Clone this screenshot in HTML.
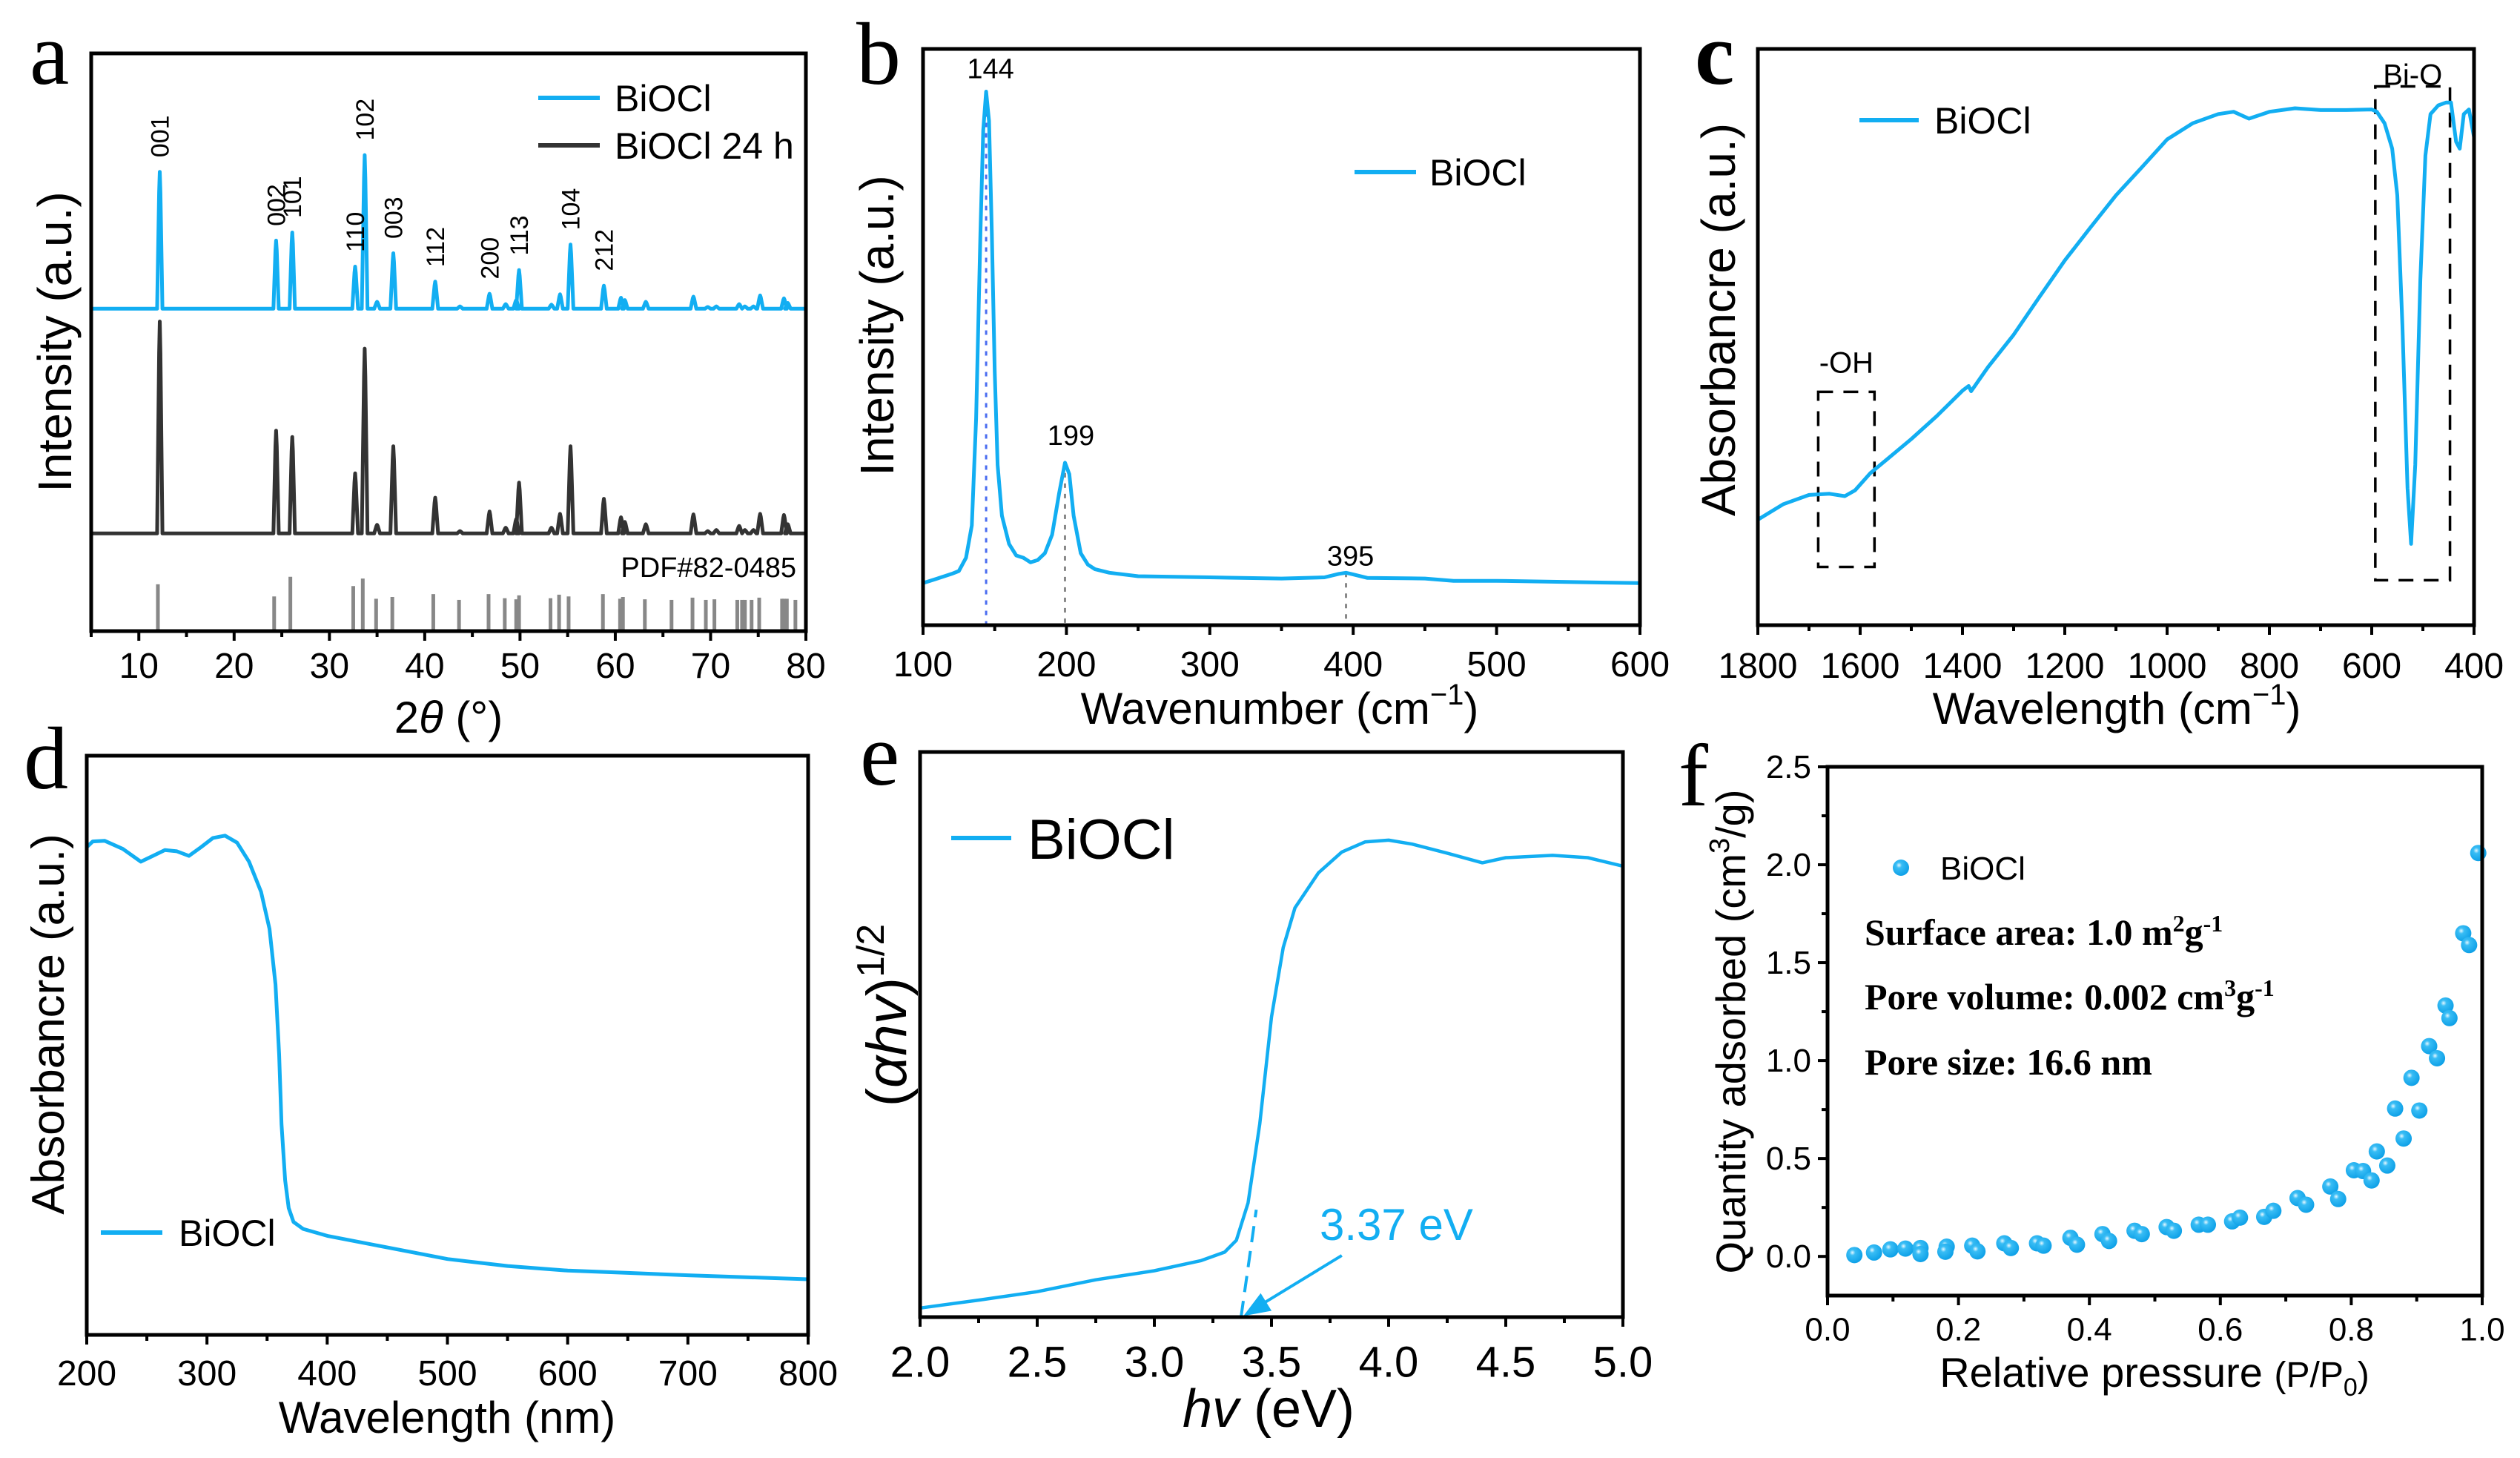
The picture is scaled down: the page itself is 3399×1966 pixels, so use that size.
<!DOCTYPE html>
<html><head><meta charset="utf-8"><style>
html,body{margin:0;padding:0;background:#fff;}
svg{display:block;font-family:"Liberation Sans",Arial,sans-serif;}
</style></head><body>
<svg id="fig" width="3399" height="1966" viewBox="0 0 3399 1966" xmlns="http://www.w3.org/2000/svg">
<defs>
<radialGradient id="ball" cx="0.38" cy="0.35" r="0.7">
<stop offset="0" stop-color="#e8f8ff"/><stop offset="0.25" stop-color="#39bdf5"/><stop offset="1" stop-color="#0a9ee6"/>
</radialGradient>
</defs>
<g id="layer"></g>
<text x="40" y="113" font-family="Liberation Serif,serif" font-size="120">a</text>
<text x="1155" y="113" font-family="Liberation Serif,serif" font-size="120">b</text>
<text x="2286" y="113" font-family="Liberation Serif,serif" font-size="120" font-weight="bold">c</text>
<text x="32" y="1063" font-family="Liberation Serif,serif" font-size="120">d</text>
<text x="1160" y="1058" font-family="Liberation Serif,serif" font-size="120">e</text>
<text x="2264" y="1086" font-family="Liberation Serif,serif" font-size="120">f</text>

<text transform="translate(96,461) rotate(-90)" text-anchor="middle" font-size="64">Intensity (a.u.)</text>
<text x="605" y="988" text-anchor="middle" font-size="60">2<tspan font-style="italic">θ</tspan> (°)</text>
<text transform="translate(1205,439) rotate(-90)" text-anchor="middle" font-size="64">Intensity (a.u.)</text>
<text x="1726" y="976" text-anchor="middle" font-size="60">Wavenumber (cm<tspan dy="-26" font-size="40">−1</tspan><tspan dy="26">)</tspan></text>
<text transform="translate(2340,431) rotate(-90)" text-anchor="middle" font-size="64">Absorbancre (a.u.)</text>
<text x="2855" y="976" text-anchor="middle" font-size="60">Wavelength (cm<tspan dy="-26" font-size="40">−1</tspan><tspan dy="26">)</tspan></text>
<text transform="translate(86,1381) rotate(-90)" text-anchor="middle" font-size="62">Absorbancre (a.u.)</text>
<text x="603" y="1932" text-anchor="middle" font-size="60">Wavelength (nm)</text>
<text transform="translate(1222,1369) rotate(-90)" text-anchor="middle" font-size="76">(<tspan font-style="italic">αhv</tspan>)<tspan dy="-30" font-size="52">1/2</tspan></text>
<text x="1711" y="1924" text-anchor="middle" font-size="72"><tspan font-style="italic">hv</tspan> (eV)</text>
<text transform="translate(2354,1391) rotate(-90)" text-anchor="middle" font-size="56">Quantity adsorbed (cm<tspan dy="-22" font-size="38">3</tspan><tspan dy="22">/g)</tspan></text>
<text x="2906" y="1870" text-anchor="middle" font-size="56">Relative pressure <tspan font-size="48">(P/P<tspan dy="12" font-size="34">0</tspan><tspan dy="-12">)</tspan></tspan></text>

<line x1="726" y1="132" x2="809" y2="132" stroke="#12aef2" stroke-width="6"/>
<text x="829" y="150" font-size="50">BiOCl</text>
<line x1="726" y1="196" x2="809" y2="196" stroke="#333" stroke-width="6"/>
<text x="829" y="214" font-size="50">BiOCl 24 h</text>
<text x="1074" y="778" text-anchor="end" font-size="38">PDF#82-0485</text>
<line x1="1827" y1="232" x2="1910" y2="232" stroke="#12aef2" stroke-width="6"/>
<text x="1928" y="250" font-size="50">BiOCl</text>
<line x1="2508" y1="162" x2="2588" y2="162" stroke="#12aef2" stroke-width="6"/>
<text x="2609" y="180" font-size="50">BiOCl</text>
<line x1="136" y1="1662" x2="219" y2="1662" stroke="#12aef2" stroke-width="6"/>
<text x="241" y="1680" font-size="50">BiOCl</text>
<line x1="1283" y1="1130" x2="1364" y2="1130" stroke="#12aef2" stroke-width="6"/>
<text x="1386" y="1158" font-size="76">BiOCl</text>
<circle cx="2564" cy="1170" r="11" fill="url(#ball)"/>
<text x="2617" y="1186" font-size="44">BiOCl</text>
<g font-family="Liberation Serif,serif" font-weight="bold" font-size="50">
<text x="2515" y="1274">Surface area: 1.0 m<tspan dy="-18" font-size="32">2</tspan><tspan dy="18">g</tspan><tspan dy="-18" font-size="32">-1</tspan></text>
<text x="2515" y="1361">Pore volume: 0.002 cm<tspan dy="-18" font-size="32">3</tspan><tspan dy="18">g</tspan><tspan dy="-18" font-size="32">-1</tspan></text>
<text x="2515" y="1449">Pore size: 16.6 nm</text>
</g>
</svg>
<script>
const xrdPos   = [12.2,24.4,26.1,32.7,33.7,35.0,36.7,41.1,43.7,46.8,48.5,49.6,49.9,53.3,54.2,55.3,58.8,60.6,61.0,63.2,68.2,69.7,70.6,73.0,73.6,74.5,75.2,77.7,78.1];
const xrdBlue  = [23.7,11.8,13.2,7.3,26.6,1.2,9.6,4.7,0.4,2.6,0.8,1.5,6.7,0.7,2.5,11.1,4.0,1.9,1.5,1.2,2.1,0.3,0.4,0.8,0.4,0.4,2.3,1.8,1.0];
const xrdBlack = [36.7,17.8,16.7,10.4,32.0,1.5,15.1,6.2,0.4,3.8,1.0,2.5,8.8,1.0,3.4,15.1,6.0,2.8,2.0,1.6,3.3,0.4,0.6,1.3,0.6,0.6,3.4,3.2,1.6];
const xrdBlueBase = 55.8;
const xrdBlackBase = 16.9;
const hklLabels = ["001","002","101","110","102","003","112","200","113","104","212"];
const hklPos    = [12.2,24.4,26.1,32.7,33.7,36.7,41.1,46.8,49.9,55.3,58.8];
const hklPeak   = [23.7,11.8,13.2,7.3,26.6,9.6,4.7,2.6,6.7,11.1,4.0];
const refPos = [12.0,24.2,25.9,32.5,33.5,34.9,36.6,40.9,43.6,46.7,48.4,49.6,49.9,53.2,54.1,55.1,58.7,60.5,60.8,63.1,65.9,68.1,69.5,70.4,72.8,73.3,73.6,74.3,75.1,77.5,77.7,78.0,78.9,80.0];
const refH   = [8.1,6.0,9.4,7.8,9.1,5.6,5.9,6.4,5.4,6.4,5.7,5.5,6.2,5.7,6.3,6.0,6.4,5.6,5.9,5.5,5.4,5.8,5.4,5.5,5.4,5.4,5.4,5.4,5.8,5.6,5.6,5.6,5.4,5.5];

const ramanX = [100,110,120,125,130,134,137,140,142,144,146,148,150,152,155,160,165,170,175,180,185,190,195,199,202,205,210,215,220,230,250,300,350,380,390,395,400,410,450,470,500,600];
const ramanY = [7.3,8.1,8.9,9.4,11.7,17.3,35.9,68,85.9,92.6,87.5,68,44,27.8,19,14.1,12.1,11.7,10.9,11.3,12.5,15.7,23,28.2,26.2,19,12.5,10.5,9.7,9.1,8.5,8.3,8.1,8.3,8.9,9.1,8.8,8.2,8.1,7.7,7.7,7.3];
const ramanPeaks = [144,199,395];
const ramanPeakY = [92.6,28.2,9.1];

const ftirX = [1800,1750,1700,1660,1630,1610,1580,1550,1500,1450,1400,1388,1383,1350,1300,1250,1200,1150,1100,1050,1000,950,900,870,840,800,750,700,650,600,590,575,560,550,540,530,523,515,505,495,485,470,455,445,435,428,420,410,400];
const ftirY = [18.3,21,22.6,22.8,22.4,23.4,26.4,28.6,32.3,36.3,40.7,41.5,40.6,44.8,50.4,56.9,63.3,69,74.6,79.4,84.3,87.1,88.7,89.1,87.9,89.1,89.7,89.4,89.4,89.5,89.1,87.1,82.7,74.6,52,23.8,14.1,27.8,60,81.5,88.7,90.2,90.7,90.7,83.9,82.7,88.7,89.5,84.7];

const uvX = [200,205,215,230,245,255,265,275,285,295,305,315,325,335,345,352,357,360,362,365,368,372,380,400,450,500,550,600,650,700,800];
const uvY = [84.2,85.2,85.3,83.9,81.7,82.7,83.7,83.5,82.7,84.2,85.8,86.2,85,81.7,76.5,70.1,60.5,48.4,36.4,26.7,21.9,19.5,18.3,17.1,15.1,13.1,11.9,11.1,10.7,10.3,9.6];

const taucX = [2.0,2.25,2.5,2.75,3.0,3.2,3.3,3.35,3.4,3.45,3.5,3.55,3.6,3.7,3.8,3.9,4.0,4.1,4.25,4.4,4.5,4.7,4.85,5.0];
const taucY = [1.6,3,4.5,6.6,8.2,10,11.5,13.6,20.2,34.2,53.1,65.4,72.4,78.6,82.3,84.1,84.4,83.7,82.1,80.4,81.3,81.7,81.3,79.8];
const bandGap = 3.37;

const betX = [0.041,0.071,0.096,0.119,0.142,0.142,0.182,0.18,0.221,0.229,0.27,0.28,0.32,0.33,0.371,0.381,0.42,0.43,0.469,0.48,0.518,0.529,0.567,0.581,0.618,0.63,0.667,0.681,0.718,0.731,0.768,0.78,0.804,0.818,0.831,0.839,0.855,0.867,0.88,0.892,0.904,0.919,0.931,0.944,0.95,0.971,0.98,0.994];
const betY = [0.007,0.02,0.036,0.04,0.043,0.012,0.05,0.024,0.055,0.026,0.067,0.043,0.067,0.055,0.095,0.06,0.114,0.079,0.131,0.114,0.15,0.131,0.162,0.162,0.179,0.198,0.202,0.233,0.298,0.264,0.357,0.293,0.44,0.436,0.388,0.536,0.464,0.755,0.602,0.912,0.745,1.074,1.012,1.281,1.217,1.65,1.59,2.06];

const ticksA = [10,20,30,40,50,60,70,80];
const ticksB = [100,200,300,400,500,600];
const ticksC = [1800,1600,1400,1200,1000,800,600,400];
const ticksD = [200,300,400,500,600,700,800];
const ticksE = ["2.0","2.5","3.0","3.5","4.0","4.5","5.0"];
const ticksFx = ["0.0","0.2","0.4","0.6","0.8","1.0"];
const ticksFy = ["0.0","0.5","1.0","1.5","2.0","2.5"];

const NS="http://www.w3.org/2000/svg";
const layer=document.getElementById('layer');
const BLUE="#12aef2";
function mk(tag,attrs,parent){const e=document.createElementNS(NS,tag);for(const k in attrs)e.setAttribute(k,attrs[k]);(parent||layer).appendChild(e);return e;}
function scale(d0,d1,r0,r1){return v=>r0+(v-d0)/(d1-d0)*(r1-r0);}
function panel(id,L,R,T,B,x0,x1,y0,y1){
  const p={L,R,T,B,sx:scale(x0,x1,L,R),sy:scale(y0,y1,B,T)};
  const g=mk('g',{});
  
  
  p.g=g;return p;
}
function frame(p,id){
  const r=mk('rect',{x:p.L,y:p.T,width:p.R-p.L,height:p.B-p.T,fill:'none',stroke:'#000','stroke-width':5},p.g);
  
  
}
function xTicks(p,id,vals,minor,labelOff,fs){
  vals.forEach(v=>{
    const x=p.sx(+v);
    const t=mk('line',{x1:x,y1:p.B,x2:x,y2:p.B+13,stroke:'#000','stroke-width':4},p.g);
    
    
    const tx=mk('text',{x:x,y:p.B+labelOff+fs*0.35,'text-anchor':'middle','font-size':fs},p.g);
    
    
    tx.textContent=v;
  });
  minor.forEach(v=>{
    const x=p.sx(v);
    const t=mk('line',{x1:x,y1:p.B,x2:x,y2:p.B+8,stroke:'#000','stroke-width':4},p.g);
    
    
  });
}
function poly(p,id,xs,ys,color,w,dash){
  const d=xs.map((x,i)=>(i?'L':'M')+p.sx(x).toFixed(1)+','+p.sy(ys[i]).toFixed(1)).join('');
  const a={d:d,fill:'none',stroke:color,'stroke-width':w,'stroke-linejoin':'round'};
  if(dash)a['stroke-dasharray']=dash;
  const e=mk('path',a,p.g);
  
  
  return e;
}
function range(a,b,s){const r=[];for(let v=a;v<=b+1e-9;v+=s)r.push(+v.toFixed(4));return r;}

// panel a
const A=panel('a',123,1087,72,851,5,80,0,100);
function xrdPath(heights,base){
  const xs=[5],ys=[base];
  xrdPos.forEach((p,i)=>{const w=p<30?0.28:0.3;xs.push(p-w,p-0.07,p,p+0.07,p+w);ys.push(base,base+heights[i]*0.85,base+heights[i],base+heights[i]*0.85,base);});
  xs.push(80);ys.push(base);return [xs,ys];
}
let [bx,by]=xrdPath(xrdBlack,xrdBlackBase);poly(A,'a-series-biocl-24h',bx,by,'#333',5);
let [ux,uy]=xrdPath(xrdBlue,xrdBlueBase);poly(A,'a-series-biocl',ux,uy,BLUE,5);
refPos.forEach((p,i)=>{
  const l=mk('line',{x1:A.sx(p),y1:A.sy(0),x2:A.sx(p),y2:A.sy(refH[i]),stroke:'#888','stroke-width':5},A.g);
  
  
});
hklLabels.forEach((s,i)=>{
  const x=A.sx(hklPos[i])+12,y=A.sy(xrdBlueBase+hklPeak[i]+2.5);
  const t=mk('text',{transform:`translate(${x},${y}) rotate(-90)`,'font-size':34},A.g);
  
  
  t.textContent=s;
});
frame(A,'a');
xTicks(A,'a',ticksA,range(5,75,10),46,48);

// panel b
const Bp=panel('b',1245,2212,66,843,100,600,0,100);
const dashCol=['#4a6cf0','#888','#888'];
ramanPeaks.forEach((p,i)=>{
  const l=mk('line',{x1:Bp.sx(p),y1:Bp.sy(ramanPeakY[i]),x2:Bp.sx(p),y2:Bp.B,stroke:dashCol[i],'stroke-width':3,'stroke-dasharray':'6 8'},Bp.g);
  
  
  const t=mk('text',{x:Bp.sx(p)+(i==1?8:6),y:Bp.sy(ramanPeakY[i])-(i==0?18:i==1?24:10),'text-anchor':'middle','font-size':38},Bp.g);
  
  
  t.textContent=p;
});
poly(Bp,'b-series-biocl',ramanX,ramanY,BLUE,5);
frame(Bp,'b');
xTicks(Bp,'b',ticksB,range(150,550,100),52,48);

// panel c
const C=panel('c',2371,3337,66,843,1800,400,0,100);
function dashedBox(p,id,x0,x1,y0,y1){
  const r=mk('rect',{x:p.sx(x0),y:p.sy(y1),width:p.sx(x1)-p.sx(x0),height:p.sy(y0)-p.sy(y1),fill:'none',stroke:'#000','stroke-width':3.5,'stroke-dasharray':'20 14'},p.g);
  
  
}
dashedBox(C,'c-oh-box',1682,1572,10.1,40.5);
dashedBox(C,'c-bio-box',593,447,7.8,93.5);
poly(C,'c-series-biocl',ftirX,ftirY,BLUE,5);
let tc=mk('text',{x:C.sx(1627),y:C.sy(45.6)+14,'text-anchor':'middle','font-size':40},C.g);


tc.textContent='-OH';
tc=mk('text',{x:C.sx(520),y:C.sy(93.5)-2,'text-anchor':'middle','font-size':40},C.g);


tc.textContent='Bi-O';
frame(C,'c');
xTicks(C,'c',ticksC,range(500,1700,200),54,48);

// panel d
const D=panel('d',117,1090,1019,1800,200,800,0,100);
poly(D,'d-series-biocl',uvX,uvY,BLUE,5);
frame(D,'d');
xTicks(D,'d',ticksD,range(250,750,100),51,48);

// panel e
const E=panel('e',1241,2189,1014,1776,2,5,0,100);
poly(E,'e-series-biocl',taucX,taucY,BLUE,4.5);
const tg=mk('line',{x1:E.sx(bandGap),y1:E.sy(0),x2:E.sx(bandGap+0.065),y2:E.sy(19),stroke:BLUE,'stroke-width':4,'stroke-dasharray':'22 12'},E.g);


const ax1=E.sx(3.8),ay1=E.sy(10.9),ax2=E.sx(bandGap+0.01),ay2=E.sy(0.2);
const ar=mk('line',{x1:ax1,y1:ay1,x2:ax2+22,y2:ay2-14,stroke:BLUE,'stroke-width':4},E.g);


const ang=Math.atan2(ay2-ay1,ax2-ax1),hl=36,hw=14;
const px=ax2-hl*Math.cos(ang),py=ay2-hl*Math.sin(ang);
const ah=mk('polygon',{points:`${ax2},${ay2} ${px+hw*Math.sin(ang)},${py-hw*Math.cos(ang)} ${px-hw*Math.sin(ang)},${py+hw*Math.cos(ang)}`,fill:BLUE},E.g);


const eg=mk('text',{x:1780,y:1672,'font-size':60,fill:BLUE},E.g);


eg.textContent=bandGap.toFixed(2)+' eV';
frame(E,'e');
xTicks(E,'e',ticksE,range(2.25,4.75,0.5),60,58);

// panel f
const F=panel('f',2465,3348,1034,1747,0,1,-0.2,2.5);
betX.forEach((x,i)=>{
  const c=mk('circle',{cx:F.sx(x),cy:F.sy(betY[i]),r:11,fill:'url(#ball)'},F.g);
  
  
});
frame(F,'f');
xTicks(F,'f',ticksFx,range(0.1,0.9,0.2),45,44);
ticksFy.forEach(v=>{
  const y=F.sy(+v);
  const t=mk('line',{x1:F.L,y1:y,x2:F.L-13,y2:y,stroke:'#000','stroke-width':4},F.g);
  
  
  const tx=mk('text',{x:2443,y:y+15,'text-anchor':'end','font-size':44},F.g);
  
  
  tx.textContent=v;
});
range(-0.25,2.25,0.5).filter(v=>v>-0.2).forEach(v=>{
  const y=F.sy(v);
  const t=mk('line',{x1:F.L,y1:y,x2:F.L-8,y2:y,stroke:'#000','stroke-width':4},F.g);
  
  
});
</script>
</body></html>
